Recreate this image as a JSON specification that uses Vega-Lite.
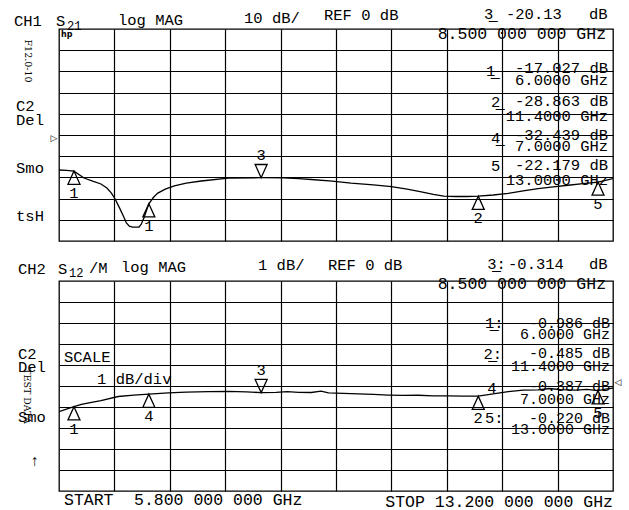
{
  "$schema": "https://vega.github.io/schema/vega-lite/v6.json",
  "background": "white",
  "padding": {"left": 13, "top": 6, "right": 0, "bottom": 0},
  "bounds": "flush",
  "spacing": 40,
  "config": {
    "view": {"stroke": "black", "strokeWidth": 1.3},
    "axis": {"grid": true, "gridColor": "black", "gridOpacity": 1, "gridWidth": 1.2, "labels": false, "ticks": false, "domain": false, "title": null},
    "text": {"font": "Liberation Mono", "fontSize": 15.5, "color": "black", "baseline": "middle"}
  },
  "datasets": {
    "trace1": [
      {"f": 5.80, "v": -16.5}, {"f": 5.90, "v": -16.7}, {"f": 6.00, "v": -17.03}, {"f": 6.134, "v": -20.3},
      {"f": 6.25, "v": -21.8}, {"f": 6.36, "v": -23.1}, {"f": 6.44, "v": -25.0}, {"f": 6.50, "v": -27.4},
      {"f": 6.55, "v": -30.2}, {"f": 6.61, "v": -34.5}, {"f": 6.67, "v": -39.0}, {"f": 6.70, "v": -41.5},
      {"f": 6.74, "v": -43.0}, {"f": 6.78, "v": -43.5}, {"f": 6.87, "v": -43.4}, {"f": 6.90, "v": -42.0},
      {"f": 6.935, "v": -39.0}, {"f": 6.97, "v": -35.5}, {"f": 7.00, "v": -32.44}, {"f": 7.06, "v": -29.5},
      {"f": 7.12, "v": -27.4}, {"f": 7.22, "v": -25.5}, {"f": 7.34, "v": -24.0}, {"f": 7.50, "v": -22.7},
      {"f": 7.70, "v": -21.7}, {"f": 8.06, "v": -20.3}, {"f": 8.50, "v": -20.13}, {"f": 8.80, "v": -20.2},
      {"f": 9.00, "v": -20.6}, {"f": 9.17, "v": -21.0}, {"f": 9.45, "v": -21.8}, {"f": 9.70, "v": -22.7},
      {"f": 10.00, "v": -23.5}, {"f": 10.24, "v": -24.4}, {"f": 10.45, "v": -25.5}, {"f": 10.64, "v": -26.8},
      {"f": 10.80, "v": -28.0}, {"f": 10.94, "v": -28.8}, {"f": 11.10, "v": -29.0}, {"f": 11.25, "v": -29.0},
      {"f": 11.40, "v": -28.86}, {"f": 11.60, "v": -28.3}, {"f": 11.80, "v": -27.5}, {"f": 12.00, "v": -26.4},
      {"f": 12.20, "v": -25.3}, {"f": 12.40, "v": -24.5}, {"f": 12.60, "v": -23.7}, {"f": 12.80, "v": -22.9},
      {"f": 13.00, "v": -22.18}, {"f": 13.10, "v": -21.4}, {"f": 13.20, "v": -20.6}
    ],
    "trace2": [
      {"f": 5.80, "v": -1.22}, {"f": 5.90, "v": -1.10}, {"f": 6.00, "v": -0.986}, {"f": 6.10, "v": -0.88},
      {"f": 6.20, "v": -0.80}, {"f": 6.36, "v": -0.70}, {"f": 6.59, "v": -0.50}, {"f": 6.80, "v": -0.43},
      {"f": 7.00, "v": -0.387}, {"f": 7.26, "v": -0.33}, {"f": 7.50, "v": -0.29}, {"f": 7.80, "v": -0.27},
      {"f": 8.06, "v": -0.26}, {"f": 8.30, "v": -0.28}, {"f": 8.50, "v": -0.314}, {"f": 8.70, "v": -0.30},
      {"f": 8.85, "v": -0.27}, {"f": 9.00, "v": -0.30}, {"f": 9.17, "v": -0.31}, {"f": 9.30, "v": -0.24},
      {"f": 9.40, "v": -0.33}, {"f": 9.70, "v": -0.36}, {"f": 10.00, "v": -0.40}, {"f": 10.20, "v": -0.43},
      {"f": 10.40, "v": -0.45}, {"f": 10.60, "v": -0.44}, {"f": 10.80, "v": -0.47}, {"f": 11.00, "v": -0.47},
      {"f": 11.20, "v": -0.48}, {"f": 11.40, "v": -0.485}, {"f": 11.60, "v": -0.38}, {"f": 11.80, "v": -0.27},
      {"f": 12.00, "v": -0.20}, {"f": 12.20, "v": -0.18}, {"f": 12.35, "v": -0.12}, {"f": 12.50, "v": -0.17},
      {"f": 12.70, "v": -0.20}, {"f": 12.85, "v": -0.16}, {"f": 13.00, "v": -0.220}, {"f": 13.10, "v": -0.15},
      {"f": 13.20, "v": -0.10}
    ],
    "mk1": [
      {"f": 6.0, "v": -17.027, "t": "1", "dir": "up"},
      {"f": 7.0, "v": -32.439, "t": "1", "dir": "up"},
      {"f": 8.5, "v": -20.13, "t": "3", "dir": "down"},
      {"f": 11.4, "v": -28.863, "t": "2", "dir": "up"},
      {"f": 13.0, "v": -22.179, "t": "5", "dir": "up"}
    ],
    "mk2": [
      {"f": 6.0, "v": -0.986, "t": "1", "dir": "up"},
      {"f": 7.0, "v": -0.387, "t": "4", "dir": "up"},
      {"f": 8.5, "v": -0.314, "t": "3", "dir": "down"},
      {"f": 11.4, "v": -0.485, "t": "2", "dir": "up"},
      {"f": 13.0, "v": -0.220, "t": "5", "dir": "up"}
    ],
    "t1L": [
      {"f": 5.199, "v": 53.8, "t": "CH1"},
      {"f": 5.76, "v": 53.8, "t": "S"},
      {"f": 6.588, "v": 54.2, "t": "log MAG"},
      {"f": 8.271, "v": 55.2, "t": "10 dB/"},
      {"f": 9.34, "v": 56.6, "t": "REF 0 dB"},
      {"f": 11.477, "v": 57.1, "t": "3̲"},
      {"f": 11.771, "v": 57.1, "t": "-20.13"},
      {"f": 12.88, "v": 57.1, "t": "dB"},
      {"f": 5.226, "v": 13.7, "t": "C2"},
      {"f": 5.226, "v": 7.1, "t": "Del"},
      {"f": 5.226, "v": -15.6, "t": "Smo"},
      {"f": 5.226, "v": -38.2, "t": "tsH"},
      {"f": 11.504, "v": 30.2, "t": "1̲"},
      {"f": 11.571, "v": 15.6, "t": "2̲"},
      {"f": 11.571, "v": -1.4, "t": "4̲"},
      {"f": 11.571, "v": -14.6, "t": "5"}
    ],
    "t1S": [
      {"f": 5.907, "v": 51.4, "t": "21"}
    ],
    "t1R": [
      {"f": 13.134, "v": 31.6, "t": "-17.027 dB"},
      {"f": 13.134, "v": 25.9, "t": "6.0000 GHz"},
      {"f": 13.134, "v": 16.0, "t": "-28.863 dB"},
      {"f": 13.134, "v": 9.0, "t": "11.4000 GHz"},
      {"f": 13.134, "v": 0.0, "t": "-32.439 dB"},
      {"f": 13.134, "v": -5.2, "t": "7.0000 GHz"},
      {"f": 13.134, "v": -14.2, "t": "-22.179 dB"},
      {"f": 13.134, "v": -21.2, "t": "13.0000 GHz"}
    ],
    "t1W": [
      {"f": 13.107, "v": 47.6, "t": "8.500 000 000 GHz"}
    ],
    "t1rot": [
      {"f": 5.386, "v": 34.9, "t": "F12.0-10"}
    ],
    "t1hp": [
      {"f": 5.827, "v": 47.2, "t": "hp"}
    ],
    "t1ref": [
      {"f": 5.733, "v": -1.4, "t": "▷"}
    ],
    "t2L": [
      {"f": 5.252, "v": 5.571, "t": "CH2"},
      {"f": 5.787, "v": 5.571, "t": "S"},
      {"f": 6.201, "v": 5.619, "t": "/M"},
      {"f": 6.628, "v": 5.667, "t": "log MAG"},
      {"f": 8.458, "v": 5.762, "t": "1 dB/"},
      {"f": 9.393, "v": 5.762, "t": "REF 0 dB"},
      {"f": 11.52, "v": 5.81, "t": "3̲:"},
      {"f": 11.798, "v": 5.81, "t": "-0.314"},
      {"f": 12.88, "v": 5.81, "t": "dB"},
      {"f": 5.252, "v": 1.524, "t": "C2"},
      {"f": 5.252, "v": 0.905, "t": "Del"},
      {"f": 5.252, "v": -1.476, "t": "Smo"},
      {"f": 5.413, "v": -3.571, "t": "↑"},
      {"f": 5.867, "v": 1.381, "t": "SCALE"},
      {"f": 6.308, "v": 0.333, "t": "1 dB/div"},
      {"f": 11.49, "v": 3.0, "t": "1̲:"},
      {"f": 11.47, "v": 1.524, "t": "2̲:"},
      {"f": 11.52, "v": -0.095, "t": "4"},
      {"f": 11.49, "v": -1.524, "t": "5:"}
    ],
    "t2S": [
      {"f": 5.934, "v": 5.381, "t": "12"}
    ],
    "t2R": [
      {"f": 13.161, "v": 3.0, "t": "-0.986   dB"},
      {"f": 13.161, "v": 2.476, "t": "6.0000 GHz"},
      {"f": 13.161, "v": 1.571, "t": "-0.485   dB"},
      {"f": 13.161, "v": 0.952, "t": "11.4000 GHz"},
      {"f": 13.161, "v": 0.0, "t": "-0.387   dB"},
      {"f": 13.161, "v": -0.619, "t": "7.0000 GHz"},
      {"f": 13.161, "v": -1.524, "t": "-0.220   dB"},
      {"f": 13.161, "v": -2.048, "t": "13.0000 GHz"}
    ],
    "t2W": [
      {"f": 13.107, "v": 4.857, "t": "8.500 000 000 GHz"},
      {"f": 13.2, "v": -5.5, "t": "STOP 13.200 000 000 GHz"}
    ],
    "t2WL": [
      {"f": 5.867, "v": -5.45, "t": "START"},
      {"f": 6.802, "v": -5.45, "t": "5.800 000 000 GHz"}
    ],
    "t2rot": [
      {"f": 5.373, "v": -0.476, "t": "TEST DATA"}
    ],
    "t2ref": [
      {"f": 13.267, "v": 0.19, "t": "◁"}
    ]
  },
  "vconcat": [
    {
      "width": 554,
      "height": 212,
      "encoding": {
        "x": {"field": "f", "type": "quantitative", "scale": {"domain": [5.8, 13.2], "nice": false, "zero": false},
              "axis": {"values": [6.54, 7.28, 8.02, 8.76, 9.5, 10.24, 10.98, 11.72, 12.46]}},
        "y": {"field": "v", "type": "quantitative", "scale": {"domain": [-50, 50], "nice": false, "zero": false},
              "axis": {"values": [-40, -30, -20, -10, 0, 10, 20, 30, 40]}}
      },
      "layer": [
        {"data": {"name": "trace1"}, "mark": {"type": "line", "color": "black", "strokeWidth": 1.3, "clip": true}},
        {"data": {"name": "mk1"}, "transform": [{"filter": "datum.dir == 'up'"}],
         "mark": {"type": "point", "shape": "M0,0L-1,2.2L1,2.2Z", "size": 144, "filled": false, "color": "black", "opacity": 1, "strokeWidth": 1.3}},
        {"data": {"name": "mk1"}, "transform": [{"filter": "datum.dir == 'down'"}],
         "mark": {"type": "point", "shape": "M0,0L-1,-2.2L1,-2.2Z", "size": 144, "filled": false, "color": "black", "opacity": 1, "strokeWidth": 1.3}},
        {"data": {"name": "mk1"}, "transform": [{"filter": "datum.dir == 'up'"}],
         "mark": {"type": "text", "dy": 22, "align": "center"}, "encoding": {"text": {"field": "t"}}},
        {"data": {"name": "mk1"}, "transform": [{"filter": "datum.dir == 'down'"}],
         "mark": {"type": "text", "dy": -23, "align": "center"}, "encoding": {"text": {"field": "t"}}},
        {"data": {"name": "t1L"}, "mark": {"type": "text", "align": "left", "clip": false}, "encoding": {"text": {"field": "t"}}},
        {"data": {"name": "t1S"}, "mark": {"type": "text", "align": "left", "fontSize": 12, "clip": false}, "encoding": {"text": {"field": "t"}}},
        {"data": {"name": "t1R"}, "mark": {"type": "text", "align": "right", "clip": false}, "encoding": {"text": {"field": "t"}}},
        {"data": {"name": "t1W"}, "mark": {"type": "text", "align": "right", "fontSize": 16.5, "clip": false}, "encoding": {"text": {"field": "t"}}},
        {"data": {"name": "t1rot"}, "mark": {"type": "text", "align": "center", "angle": 90, "font": "DejaVu Serif", "fontSize": 9.5, "clip": false}, "encoding": {"text": {"field": "t"}}},
        {"data": {"name": "t1hp"}, "mark": {"type": "text", "align": "left", "font": "DejaVu Sans", "fontWeight": "bold", "fontSize": 8}, "encoding": {"text": {"field": "t"}}},
        {"data": {"name": "t1ref"}, "mark": {"type": "text", "align": "center", "font": "DejaVu Sans", "fontSize": 9, "clip": false}, "encoding": {"text": {"field": "t"}}}
      ]
    },
    {
      "width": 554,
      "height": 210,
      "encoding": {
        "x": {"field": "f", "type": "quantitative", "scale": {"domain": [5.8, 13.2], "nice": false, "zero": false},
              "axis": {"values": [6.54, 7.28, 8.02, 8.76, 9.5, 10.24, 10.98, 11.72, 12.46]}},
        "y": {"field": "v", "type": "quantitative", "scale": {"domain": [-5, 5], "nice": false, "zero": false},
              "axis": {"values": [-4, -3, -2, -1, 0, 1, 2, 3, 4]}}
      },
      "layer": [
        {"data": {"name": "trace2"}, "mark": {"type": "line", "color": "black", "strokeWidth": 1.3, "clip": true}},
        {"data": {"name": "mk2"}, "transform": [{"filter": "datum.dir == 'up'"}],
         "mark": {"type": "point", "shape": "M0,0L-1,2.2L1,2.2Z", "size": 144, "filled": false, "color": "black", "opacity": 1, "strokeWidth": 1.3}},
        {"data": {"name": "mk2"}, "transform": [{"filter": "datum.dir == 'down'"}],
         "mark": {"type": "point", "shape": "M0,0L-1,-2.2L1,-2.2Z", "size": 144, "filled": false, "color": "black", "opacity": 1, "strokeWidth": 1.3}},
        {"data": {"name": "mk2"}, "transform": [{"filter": "datum.dir == 'up'"}],
         "mark": {"type": "text", "dy": 22, "align": "center"}, "encoding": {"text": {"field": "t"}}},
        {"data": {"name": "mk2"}, "transform": [{"filter": "datum.dir == 'down'"}],
         "mark": {"type": "text", "dy": -23, "align": "center"}, "encoding": {"text": {"field": "t"}}},
        {"data": {"name": "t2L"}, "mark": {"type": "text", "align": "left", "clip": false}, "encoding": {"text": {"field": "t"}}},
        {"data": {"name": "t2S"}, "mark": {"type": "text", "align": "left", "fontSize": 12, "clip": false}, "encoding": {"text": {"field": "t"}}},
        {"data": {"name": "t2R"}, "mark": {"type": "text", "align": "right", "fontSize": 15, "clip": false}, "encoding": {"text": {"field": "t"}}},
        {"data": {"name": "t2W"}, "mark": {"type": "text", "align": "right", "fontSize": 16.5, "clip": false}, "encoding": {"text": {"field": "t"}}},
        {"data": {"name": "t2WL"}, "mark": {"type": "text", "align": "left", "fontSize": 16.5, "clip": false}, "encoding": {"text": {"field": "t"}}},
        {"data": {"name": "t2rot"}, "mark": {"type": "text", "align": "center", "angle": 90, "font": "DejaVu Serif", "fontSize": 9.5, "clip": false}, "encoding": {"text": {"field": "t"}}},
        {"data": {"name": "t2ref"}, "mark": {"type": "text", "align": "center", "font": "DejaVu Sans", "fontSize": 9, "clip": false}, "encoding": {"text": {"field": "t"}}}
      ]
    }
  ]
}
